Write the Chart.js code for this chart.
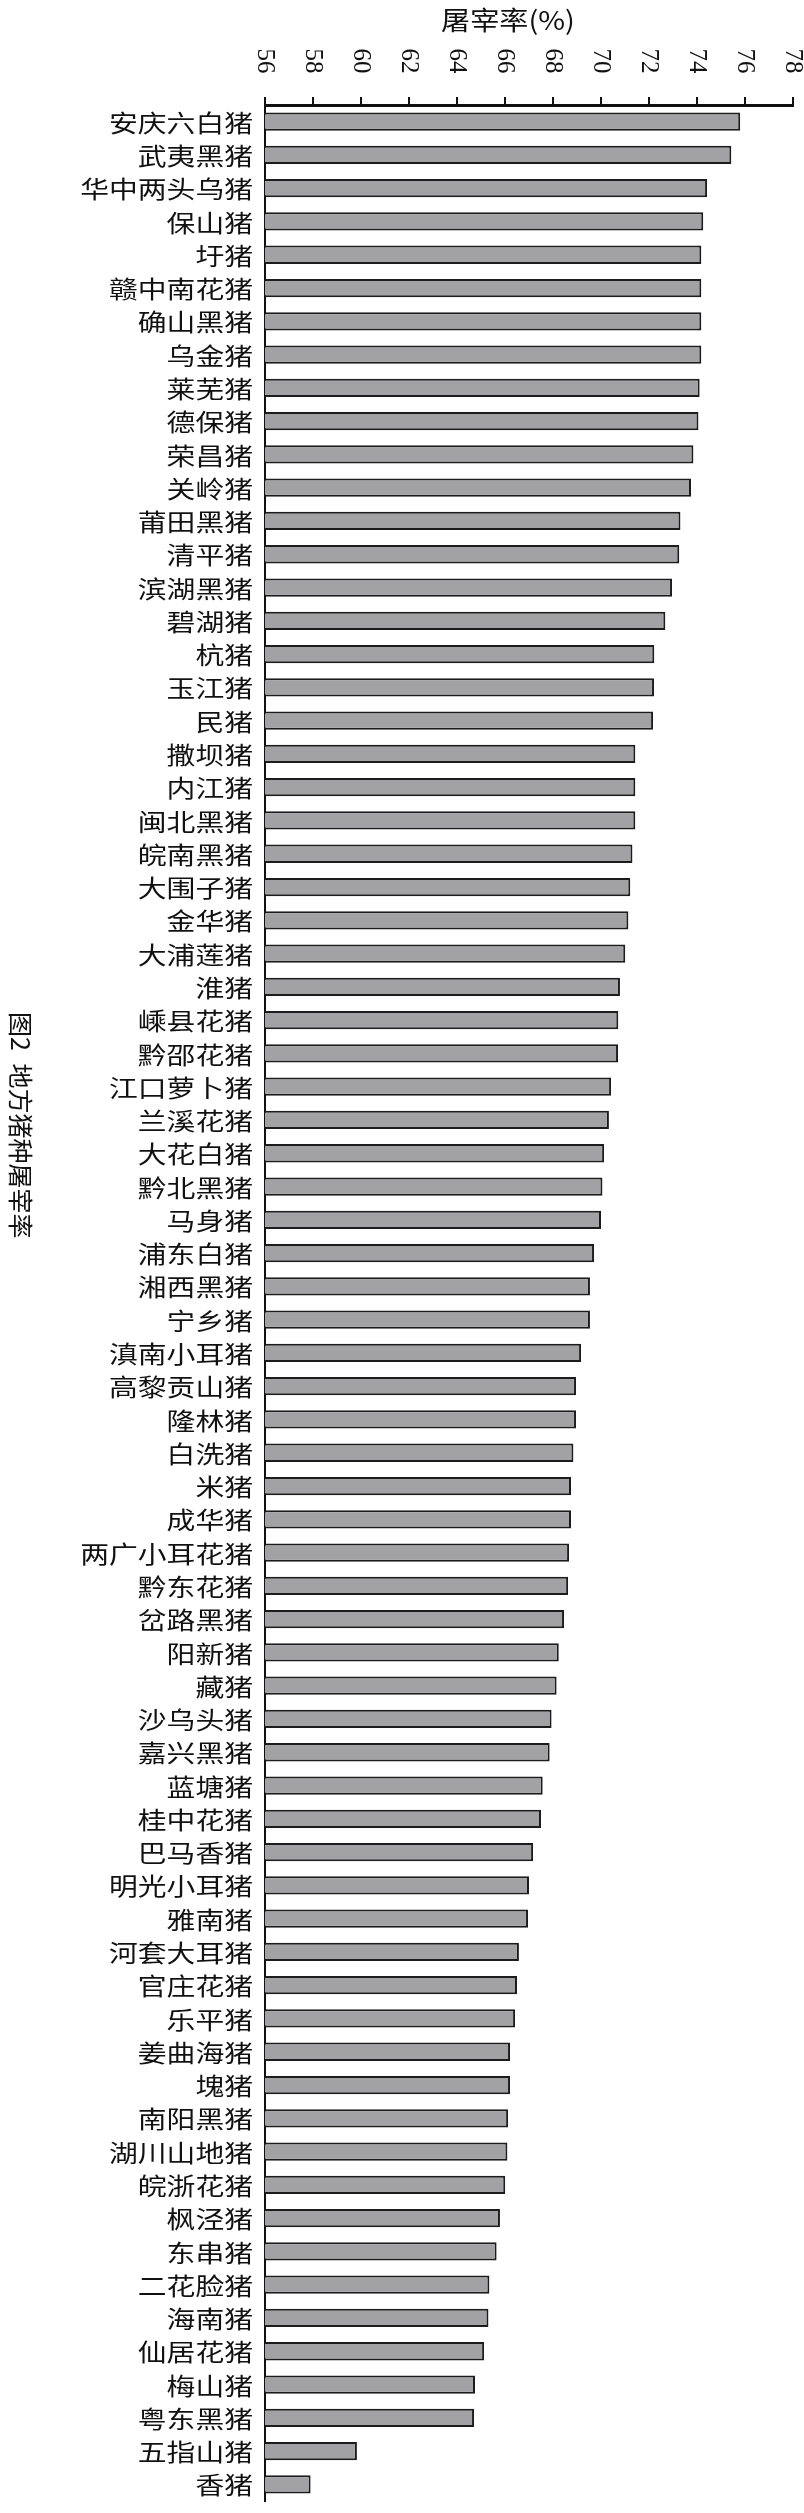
<!DOCTYPE html>
<html>
<head>
<meta charset="utf-8">
<script src="https://cdn.jsdelivr.net/npm/chart.js@4/dist/chart.umd.min.js"></script>
<style>
  html, body { margin: 0; padding: 0; background: #fff; }
  #wrap { width: 804px; height: 2513px; position: relative; }
</style>
</head>
<body>
<div id="wrap"><canvas id="chart"></canvas></div>
<script>
// 地方猪种屠宰率 (%)
const categories = [
    '安庆六白猪', '武夷黑猪', '华中两头乌猪', '保山猪', '圩猪', '赣中南花猪', '确山黑猪', '乌金猪',
    '莱芜猪', '德保猪', '荣昌猪', '关岭猪', '莆田黑猪', '清平猪', '滨湖黑猪', '碧湖猪',
    '杭猪', '玉江猪', '民猪', '撒坝猪', '内江猪', '闽北黑猪', '皖南黑猪', '大围子猪',
    '金华猪', '大浦莲猪', '淮猪', '嵊县花猪', '黔邵花猪', '江口萝卜猪', '兰溪花猪', '大花白猪',
    '黔北黑猪', '马身猪', '浦东白猪', '湘西黑猪', '宁乡猪', '滇南小耳猪', '高黎贡山猪', '隆林猪',
    '白洗猪', '米猪', '成华猪', '两广小耳花猪', '黔东花猪', '岔路黑猪', '阳新猪', '藏猪',
    '沙乌头猪', '嘉兴黑猪', '蓝塘猪', '桂中花猪', '巴马香猪', '明光小耳猪', '雅南猪', '河套大耳猪',
    '官庄花猪', '乐平猪', '姜曲海猪', '塊猪', '南阳黑猪', '湖川山地猪', '皖浙花猪', '枫泾猪',
    '东串猪', '二花脸猪', '海南猪', '仙居花猪', '梅山猪', '粤东黑猪', '五指山猪', '香猪'
];
const slaughterRate = [
    75.8, 75.43, 74.42, 74.26, 74.18, 74.18, 74.18, 74.18,
    74.11, 74.06, 73.85, 73.75, 73.31, 73.26, 72.96, 72.68,
    72.22, 72.21, 72.17, 71.43, 71.43, 71.43, 71.31, 71.22,
    71.14, 71.01, 70.79, 70.72, 70.71, 70.42, 70.33, 70.13,
    70.06, 70.0, 69.71, 69.54, 69.54, 69.17, 68.96, 68.96,
    68.85, 68.75, 68.75, 68.67, 68.63, 68.46, 68.24, 68.15,
    67.94, 67.86, 67.57, 67.5, 67.17, 67.0, 66.96, 66.58,
    66.5, 66.42, 66.21, 66.21, 66.13, 66.1, 66.01, 65.79,
    65.65, 65.35, 65.31, 65.13, 64.75, 64.71, 59.83, 57.9
];
const xMin = 56, xMax = 78, xStep = 2;
const axisTitle = '屠宰率(%)';
const figCaption = '图2\u2002地方猪种屠宰率';

// labels drawn by hand: ticks on top are rotated clockwise, names are a bit wide
const handLabels = {
    id: 'handLabels',
    afterDraw(chart) {
        const ctx = chart.ctx, xs = chart.scales.x, ys = chart.scales.y;
        ctx.save();
        ctx.fillStyle = '#111';

        ctx.font = '24px "Noto Sans CJK SC"';
        ctx.textAlign = 'right';
        ctx.textBaseline = 'middle';
        categories.forEach((name, i) => {
            ctx.save();
            ctx.translate(xs.left - 12, ys.getPixelForTick(i) + 1);
            ctx.scale(1.2, 1);
            ctx.fillText(name, 0, 0);
            ctx.restore();
        });

        ctx.font = '25px "Liberation Serif"';
        ctx.textAlign = 'center';
        xs.ticks.forEach((t, i) => {
            ctx.save();
            ctx.translate(xs.getPixelForTick(i), xs.bottom - 44);
            ctx.rotate(Math.PI / 2);
            ctx.fillText(String(t.value), 0, 0);
            ctx.restore();
        });

        ctx.font = '26px "Noto Sans CJK SC"';
        ctx.save();
        ctx.translate(508, 20);
        ctx.scale(1.12, 1);
        ctx.fillText(axisTitle, 0, 0);
        ctx.restore();

        ctx.font = '25px "Noto Sans CJK SC"';
        ctx.textAlign = 'left';
        ctx.save();
        ctx.translate(20, 1012);
        ctx.rotate(Math.PI / 2);
        ctx.fillText(figCaption, 0, 0);
        ctx.restore();

        ctx.restore();
    }
};

new Chart(document.getElementById('chart'), {
    type: 'bar',
    data: {
        labels: categories,
        datasets: [{
            data: slaughterRate,
            backgroundColor: '#a2a2a4',
            borderColor: '#1c1c1c',
            borderWidth: 2,
            borderSkipped: 'start',
            barPercentage: 0.55,
            categoryPercentage: 1
        }]
    },
    options: {
        indexAxis: 'y',
        responsive: true,
        maintainAspectRatio: false,
        animation: false,
        layout: { padding: { left: 0, right: 11, top: 0, bottom: 12 } },
        plugins: { legend: { display: false }, tooltip: { enabled: false } },
        scales: {
            x: {
                position: 'top',
                min: xMin, max: xMax,
                ticks: { display: false, stepSize: xStep },
                grid: { drawOnChartArea: false, drawTicks: true, tickLength: 8, color: '#111', lineWidth: 2 },
                border: { display: true, color: '#111', width: 3 },
                afterFit: s => { s.height = 105; }
            },
            y: {
                ticks: { display: false },
                grid: { display: false, drawTicks: false },
                border: { display: true, color: '#111', width: 2 },
                afterFit: s => { s.width = 265; }
            }
        }
    },
    plugins: [handLabels]
});
</script>
</body>
</html>
